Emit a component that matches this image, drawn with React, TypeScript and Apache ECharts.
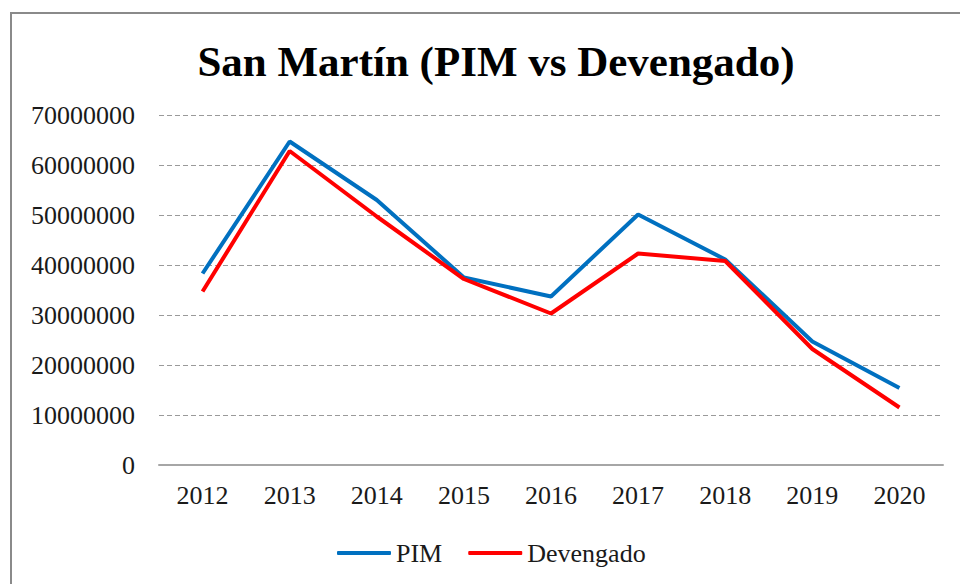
import React, { useEffect, useRef } from "react";
import * as echarts from "echarts";

const years = ["2012", "2013", "2014", "2015", "2016", "2017", "2018", "2019", "2020"];
const pim = [38300000, 64700000, 53000000, 37500000, 33700000, 50100000, 41100000, 24700000, 15400000];
const devengado = [34700000, 62800000, 49700000, 37200000, 30300000, 42300000, 40800000, 23200000, 11500000];
const titleText = "San Martín (PIM vs Devengado)";
const seriesNames = ["PIM", "Devengado"];

const FONT = "Liberation Serif";

export default function App() {
  const ref = useRef<HTMLDivElement>(null);
  useEffect(() => {
    if (!ref.current) return;
    const chart = echarts.init(ref.current, undefined, { renderer: "svg" });
    const legendText = { fontFamily: FONT, fontSize: 26, color: "#1a1a1a", lineHeight: 26 };
    chart.setOption({
      animation: false,
      backgroundColor: "#ffffff",
      textStyle: { fontFamily: FONT },
      title: {
        text: titleText,
        left: 491,
        top: 35,
        textAlign: "center",
        textStyle: { fontFamily: FONT, fontWeight: "bold", fontSize: 43, color: "#000", lineHeight: 43 },
      },
      graphic: [
        {
          type: "rect",
          shape: { x: 11, y: 13, width: 1000, height: 600 },
          style: { fill: "none", stroke: "#8a8a8a", lineWidth: 2 },
          z: 100,
        },
      ],
      legend: {
        data: seriesNames.map((n) => ({ name: n, textStyle: legendText })),
        left: 332,
        top: 535,
        icon: "roundRect",
        itemWidth: 54,
        itemHeight: 4,
        itemGap: 26,
        textStyle: legendText,
      },
      grid: { left: 159, right: 17, top: 115, bottom: 119, containLabel: false },
      xAxis: {
        type: "category",
        data: years,
        boundaryGap: true,
        axisLine: { show: true, lineStyle: { color: "#a6a6a6", width: 2 } },
        axisTick: { show: false },
        axisLabel: { fontFamily: FONT, fontSize: 26, color: "#1a1a1a", margin: 17 },
        splitLine: { show: false },
      },
      yAxis: {
        type: "value",
        min: 0,
        max: 70000000,
        interval: 10000000,
        axisLine: { show: false },
        axisTick: { show: false },
        axisLabel: {
          fontFamily: FONT,
          fontSize: 26,
          color: "#1a1a1a",
          margin: 24,
          formatter: (v: number) => String(v),
        },
        splitLine: { show: true, lineStyle: { color: "#9a9a9a", width: 1, type: [5, 3] } },
      },
      series: [
        {
          name: seriesNames[0],
          type: "line",
          data: pim,
          showSymbol: false,
          symbol: "none",
          lineStyle: { color: "#0070C0", width: 4 },
          itemStyle: { color: "#0070C0" },
        },
        {
          name: seriesNames[1],
          type: "line",
          data: devengado,
          showSymbol: false,
          symbol: "none",
          lineStyle: { color: "#FF0000", width: 4 },
          itemStyle: { color: "#FF0000" },
        },
      ],
    });
    return () => chart.dispose();
  }, []);
  return (
    <div
      ref={ref}
      style={{ position: "fixed", left: 0, top: 0, width: 960, height: 584, background: "#fff" }}
    />
  );
}
